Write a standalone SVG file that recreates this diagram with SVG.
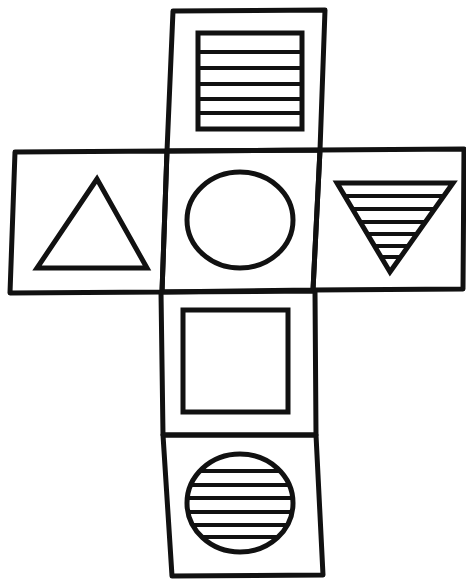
<svg xmlns="http://www.w3.org/2000/svg" width="466" height="586" viewBox="0 0 466 586">
<style>
.face{fill:none;stroke:#111;stroke-width:5;stroke-linejoin:round}
.shape{fill:none;stroke:#111;stroke-width:5;stroke-linejoin:miter}
.stripe{stroke:#111;stroke-width:4}
</style>
<defs>
<clipPath id="clipTri"><polygon points="337,183 453,183 390,272"/></clipPath>
<clipPath id="clipCirc"><ellipse cx="240" cy="503" rx="53" ry="49"/></clipPath>
</defs>
<rect width="466" height="586" fill="#fff"/>
<g id="face-top">
<polygon class="face" points="173,11 325,10 320,150 167,151"/>
<rect class="shape" x="198" y="33" width="104" height="96"/>
<g class="stripe">
<line x1="198" y1="52" x2="302" y2="52"/>
<line x1="198" y1="68" x2="302" y2="68"/>
<line x1="198" y1="84" x2="302" y2="84"/>
<line x1="198" y1="99" x2="302" y2="99"/>
<line x1="198" y1="113" x2="302" y2="113"/>
</g>
</g>
<g id="face-left">
<polygon class="face" points="15,152 167,151 162,292 10,293"/>
<polygon class="shape" points="97,179 37,268 147,268"/>
</g>
<g id="face-center">
<polygon class="face" points="167,151 320,150 313,290 162,292"/>
<ellipse class="shape" cx="240" cy="220" rx="53" ry="48"/>
</g>
<g id="face-right">
<polygon class="face" points="320,150 464,149 463,289 313,290"/>
<g class="stripe" clip-path="url(#clipTri)">
<line x1="330" y1="196" x2="460" y2="196"/>
<line x1="330" y1="209" x2="460" y2="209"/>
<line x1="330" y1="222" x2="460" y2="222"/>
<line x1="330" y1="234" x2="460" y2="234"/>
<line x1="330" y1="246" x2="460" y2="246"/>
<line x1="330" y1="257" x2="460" y2="257"/>
</g>
<polygon class="shape" points="337,183 453,183 390,272"/>
</g>
<g id="face-lower">
<polygon class="face" points="161,292 315,291 316,435 163,435"/>
<rect class="shape" x="183" y="310" width="105" height="102"/>
</g>
<g id="face-bottom">
<polygon class="face" points="163,435 316,435 323,575 172,576"/>
<g class="stripe" clip-path="url(#clipCirc)">
<line x1="180" y1="471" x2="300" y2="471"/>
<line x1="180" y1="485" x2="300" y2="485"/>
<line x1="180" y1="498" x2="300" y2="498"/>
<line x1="180" y1="512" x2="300" y2="512"/>
<line x1="180" y1="525" x2="300" y2="525"/>
<line x1="180" y1="537" x2="300" y2="537"/>
</g>
<ellipse class="shape" cx="240" cy="503" rx="53" ry="49"/>
</g>
<g id="connectors"></g>
</svg>
